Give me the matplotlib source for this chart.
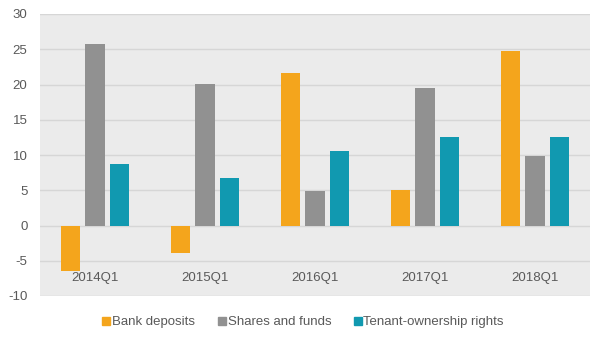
import matplotlib
matplotlib.use("Agg")
import matplotlib.pyplot as plt
from matplotlib.lines import Line2D
import numpy as np

plt.rcParams['font.family'] = ['Liberation Sans', 'DejaVu Sans']

categories = ["2014Q1", "2015Q1", "2016Q1", "2017Q1", "2018Q1"]
bank_deposits = [-6.5, -3.9, 21.6, 5.1, 24.8]
shares_funds = [25.8, 20.1, 4.9, 19.5, 9.9]
tenant_rights = [8.7, 6.7, 10.6, 12.6, 12.6]
series_names = ["Bank deposits", "Shares and funds", "Tenant-ownership rights"]
colors = ["#F4A51C", "#919191", "#1199B0"]
yticks = [-10, -5, 0, 5, 10, 15, 20, 25, 30]

fig = plt.figure(figsize=(6.05, 3.42), dpi=100)
ax = fig.add_axes([40/605, 1-296/342, 550/605, 282/342])
ax.set_facecolor("#EBEBEB")
fig.patch.set_facecolor("white")

x = np.arange(len(categories))
w = 0.175
off = 0.22
for i, (vals, c) in enumerate(zip([bank_deposits, shares_funds, tenant_rights], colors)):
    ax.bar(x + (i-1)*off, vals, width=w, color=c, zorder=3)

ax.set_xlim(-0.5, len(categories)-0.5)
ax.set_ylim(-10, 30)
ax.set_yticks(yticks)
ax.set_yticklabels([str(t) for t in yticks], fontsize=9.5, color="#595959")
ax.tick_params(axis='y', length=0, pad=9)
ax.set_xticks([])
for s in ax.spines.values():
    s.set_visible(False)
for t in yticks:
    ax.axhline(t, color="#D6D6D6", lw=1.0, zorder=1)

for xi, lab in zip(x, categories):
    ax.text(xi, -7.4, lab, ha="center", va="center", fontsize=9.5, color="#595959", zorder=4)

handles = [Line2D([], [], marker='s', linestyle='None', markersize=6, color=c) for c in colors]
fig.legend(handles, series_names, loc="center", bbox_to_anchor=(0.5, 1-322/342), ncol=3,
           frameon=False, fontsize=9.5, handletextpad=0.05, columnspacing=1.6,
           handlelength=0.8, labelcolor="#595959")

fig.savefig("out.png", dpi=100)
